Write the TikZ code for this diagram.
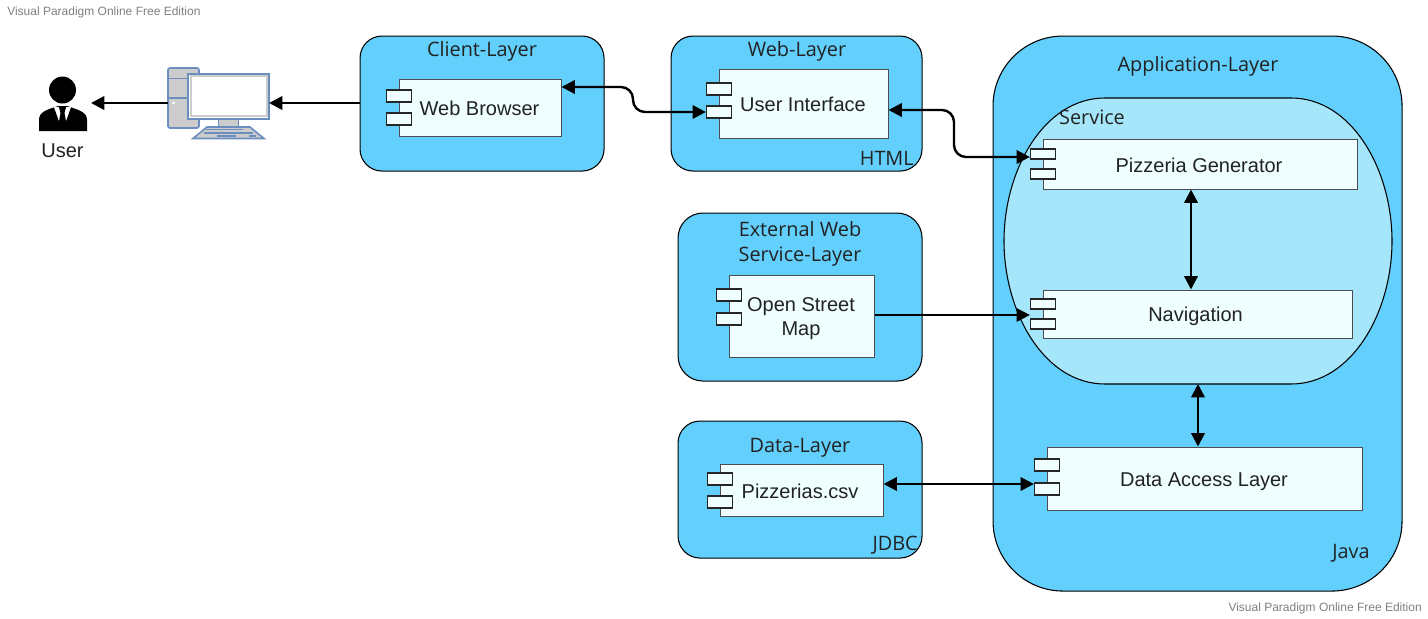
\documentclass[tikz,border=0pt]{standalone}
\usepackage{fontspec}
\setmainfont{Liberation Sans}
\newfontfamily\titlefont{Open Sans}
\usetikzlibrary{arrows.meta,positioning,calc}
\definecolor{layerblue}{HTML}{62CFFC}
\definecolor{svcblue}{HTML}{A5E6FA}
\definecolor{compfill}{HTML}{EFFEFF}
\definecolor{txt}{HTML}{222222}
\definecolor{wm}{HTML}{808080}
\definecolor{pcblue}{HTML}{6C8EBF}
\definecolor{pcgrey}{HTML}{CCCCCC}
\newcommand{\layer}[6]{\node[layerbox,minimum width=#3*0.75pt,minimum height=#4*0.75pt,rounded corners=#5*0.75pt] (#6) at (#1-0.5,#2-0.5) {};}
\newcommand{\comp}[8]{%
 \node[compbody,minimum width=#4*0.75pt-#2*0.75pt,minimum height=#5*0.75pt-#3*0.75pt] (#1) at ({(#2+#4)/2},{(#3+#5)/2}) {};
 \node[comptab,minimum width=25*0.75pt,minimum height=#8*0.75pt] (#1t1) at (#2,#6) {};
 \node[comptab,minimum width=25*0.75pt,minimum height=#8*0.75pt] (#1t2) at (#2,#7) {};}
\tikzset{
 layerbox/.style={draw=black,fill=layerblue,line width=0.8pt,inner sep=0pt,anchor=north west},
 compbody/.style={draw=black!70,fill=compfill,line width=0.75pt,inner sep=0pt},
 comptab/.style={draw=black!85,fill=compfill,line width=0.9pt,inner sep=0pt},
 ltitle/.style={font=\titlefont\fontsize{14.9}{18.5}\selectfont,text=txt,align=center,inner sep=0pt},
 ctext/.style={font=\fontsize{15}{18}\selectfont,text=txt,align=center,inner sep=0pt},
 wmark/.style={font=\fontsize{9}{11}\selectfont,text=wm,inner sep=0pt},
 conn/.style={draw=black,line width=1.8pt,rounded corners=9pt},
 tip1/.style={-{Triangle[length=10pt,width=10pt]}},
 tip2/.style={{Triangle[length=10pt,width=10pt]}-{Triangle[length=10pt,width=10pt]}},
 pcpart/.style={draw=pcblue,line width=1.2pt,fill=pcgrey},
}
\begin{document}
\begin{tikzpicture}[x=0.75pt,y=-0.75pt]
\useasboundingbox (0,0) rectangle (1428,618);
\fill[white] (0,0) rectangle (1428,618);
\node[wmark,anchor=west] (wm1) at (7,12) {Visual Paradigm Online Free Edition};
\node[wmark,anchor=east] (wm2) at (1422,608.5) {Visual Paradigm Online Free Edition};
% layers
\layer{360}{36}{244}{135}{22}{client}
\layer{671}{36}{251}{135}{22}{web}
\layer{678}{213}{244}{168}{25}{ext}
\layer{678}{421}{244}{137}{22}{data}
\layer{993}{36}{409}{555}{70}{app}
% service
\draw[draw=black,fill=svcblue,line width=0.8pt] (1105,98) -- (1291,98)
 .. controls (1352,98) and (1392,170) .. (1392,241)
 .. controls (1392,312) and (1352,384) .. (1291,384)
 -- (1105,384)
 .. controls (1044,384) and (1004,312) .. (1004,241)
 .. controls (1004,170) and (1044,98) .. (1105,98) -- cycle;
\coordinate (svcbottom) at (1198,384);
% titles
\node[ltitle] (tclient) at (482,51.5) {Client-Layer};
\node[ltitle] (tweb) at (797,51.5) {Web-Layer};
\node[ltitle] (text) at (800,244) {External Web\\Service-Layer};
\node[ltitle] (tdata) at (800,447.5) {Data-Layer};
\node[ltitle] (tapp) at (1198,66.5) {Application-Layer};
\node[ltitle] (tsvc) at (1092,117) {Service};
\node[ltitle,anchor=east] (thtml) at (914,158) {HTML};
\node[ltitle,anchor=east] (tjdbc) at (918,545) {JDBC};
\node[ltitle,anchor=east] (tjava) at (1370,553.5) {Java};
% components
\comp{wb}{399}{79}{561}{136}{96}{119}{12}
\comp{ui}{719}{69}{888}{138}{89}{112}{12}
\comp{pg}{1043}{139}{1357}{189}{154}{174}{10}
\comp{nav}{1043}{290}{1352}{338}{304}{324}{10}
\comp{dal}{1047}{447}{1362}{510}{465}{489}{12}
\comp{osm}{729}{275}{874}{357}{295}{319}{12}
\comp{csv}{720}{464}{883}{516}{479}{502}{12}
\node[ctext] (lwb) at (479.5,108) {Web Browser};
\node[ctext] (lui) at (803,104) {User Interface};
\node[ctext] (lpg) at (1199,165.5) {Pizzeria Generator};
\node[ctext] (lnav) at (1195.5,316) {Navigation};
\node[ctext] (ldal) at (1204,481.5) {Data Access Layer};
\node[ctext] (losm) at (801,319) {Open Street\\Map};
\node[ctext] (lcsv) at (800,491.5) {Pizzerias.csv};
% user icon
\fill[black] (62.5,90) circle (13.5);
\fill[black] (39,131) -- (39,120) .. controls (39,112) and (46,110) .. (58,106) -- (67,106)
 .. controls (79,110) and (87,112) .. (87,120) -- (87,131) -- cycle;
\fill[white] (54,107) -- (62.5,131) -- (71,107) -- cycle;
\fill[black] (59,107) -- (66,107) -- (64.5,113) -- (67,127) -- (62.5,131) -- (58,127) -- (60.5,113) -- cycle;
\node[font=\fontsize{15}{18}\selectfont,text=txt,inner sep=0pt] (user) at (62.5,151) {User};
\coordinate (userR) at (91,103);
% computer
\draw[pcpart,rounded corners=1.5pt] (168,68) rectangle (199,128);
\draw[pcblue,line width=1.2pt] (168,78.5) -- (188,78.5) (168,98) -- (188,98);
\fill[white] (173.5,103) circle (1.7);
\draw[pcpart] (218.5,119) rectangle (238.5,127);
\path[pcpart] (207,127) -- (250,127) -- (264,138.5) -- (193,138.5) -- cycle;
\draw[pcblue,line width=1.2pt] (206,129.5) -- (243,129.5) (204,133) -- (253,133) (217,136) -- (236,136) (249,136) -- (256,136);
\node[draw=pcblue,line width=1.5pt,fill=white,minimum width=60.4pt,inner sep=0pt,minimum height=33.75pt] (pc) at (228.75,96) {};
\draw[pcgrey,line width=1.5pt] (191,76) rectangle (266.5,116);
\coordinate (pcL) at (168,103);
\coordinate (pcR) at (269,103);
% connectors
\draw[conn,tip1] (client.west |- pcL) -- (pcR);
\draw[conn,tip1] (pcL) -- (userR);
\draw[conn,tip2] (wb.east |- 0,87) -- (633,87) -- (633,112) -- (uit2.west);
\draw[conn,tip2] (ui.east |- 0,110) -- (954,110) -- (954,157) -- (pgt1.west |- 0,157);
\draw[conn,tip2] (pg.south -| 1191,0) -- (nav.north -| 1191,0);
\draw[conn,tip2] (svcbottom) -- (dal.north -| svcbottom);
\draw[conn,tip1,line width=1.3pt] (osm.east |- 0,315) -- (navt1.west |- 0,315);
\draw[conn,tip2] (csv.east |- 0,484) -- (dalt2.west |- 0,484);
\end{tikzpicture}
\end{document}
